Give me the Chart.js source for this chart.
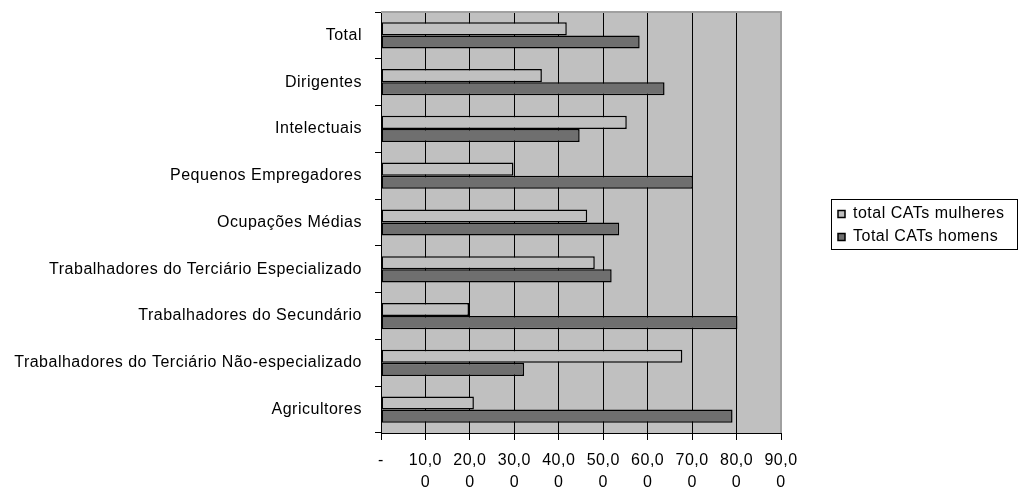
<!DOCTYPE html>
<html>
<head>
<meta charset="utf-8">
<script src="https://cdn.jsdelivr.net/npm/chart.js@4"></script>
<style>
  body { margin: 0; background: #fff; }
  #wrap { width: 1019px; height: 488px; }
</style>
</head>
<body>
<div id="wrap"><canvas id="myBarChart"></canvas></div>
<script>
/*declare chart data*/
const categories = [
  'Total',
  'Dirigentes',
  'Intelectuais',
  'Pequenos Empregadores',
  'Ocupações Médias',
  'Trabalhadores do Terciário Especializado',
  'Trabalhadores do Secundário',
  'Trabalhadores do Terciário Não-especializado',
  'Agricultores',
];
const mulheres = [41.8, 36.2, 55.3, 29.8, 46.4, 48.1, 19.8, 67.8, 20.9];
const homens = [58.2, 63.8, 44.7, 70.2, 53.6, 51.9, 80.2, 32.2, 79.1];
const xTickLabels = ['-', ['10,0', '0'], ['20,0', '0'], ['30,0', '0'], ['40,0', '0'],
  ['50,0', '0'], ['60,0', '0'], ['70,0', '0'], ['80,0', '0'], ['90,0', '0']];

Chart.defaults.font.family = '"Liberation Sans", Arial, sans-serif';
Chart.defaults.font.size = 16;
Chart.defaults.color = '#000';

/*plot background and frame*/
const plotFrame = {
  id: 'plotFrame',
  beforeLayout(chart) {
    chart.ctx.letterSpacing = '0.5px';
  },
  beforeDraw(chart) {
    const {ctx, chartArea: a} = chart;
    ctx.letterSpacing = '0.5px';
    ctx.save();
    ctx.fillStyle = '#c0c0c0';
    ctx.fillRect(a.left, a.top, a.right - a.left, a.bottom - a.top);
    ctx.restore();
  },
  afterDraw(chart) {
    const {ctx, chartArea: a} = chart;
    ctx.save();
    ctx.strokeStyle = '#a0a0a0';
    ctx.lineWidth = 2;
    ctx.beginPath();
    ctx.moveTo(a.left, a.top);
    ctx.lineTo(a.right, a.top);
    ctx.lineTo(a.right, a.bottom);
    ctx.stroke();
    // legend frame around the items
    const l = chart.legend;
    const boxes = l.legendHitBoxes || [];
    if (boxes.length) {
      const first = boxes[0];
      const last = boxes[boxes.length - 1];
      const top = first.top - 7;
      const bottom = last.top + last.height + 4;
      ctx.strokeStyle = '#000';
      ctx.lineWidth = 1;
      ctx.strokeRect(l.left + 0.5, top + 0.5, l.width, bottom - top);
    }
    ctx.restore();
  },
  afterLayout(chart) {
    const l = chart.legend;
    l.left = 831;
    l.top = 199;
    l.width = 186;
    l.height = 70;
    l.right = l.left + l.width;
    l.bottom = l.top + l.height;
  }
};

/*wire the options together*/
const data = {
  labels: categories,
  datasets: [{
    label: 'total CATs mulheres',
    backgroundColor: '#c0c0c0',
    borderColor: '#000',
    borderWidth: 1.5,
    borderSkipped: false,
    data: mulheres,
  }, {
    label: 'Total CATs homens',
    backgroundColor: '#6f6f6f',
    borderColor: '#000',
    borderWidth: 1.5,
    borderSkipped: false,
    data: homens,
  }]
};

const barConfig = {
  type: 'bar',
  data: data,
  plugins: [plotFrame],
  options: {
    indexAxis: 'y',
    responsive: true,
    maintainAspectRatio: false,
    animation: false,
    categoryPercentage: 0.56,
    barPercentage: 1,
    layout: { padding: { top: 12, right: 238, bottom: 0, left: 0 } },
    plugins: {
      tooltip: { enabled: false },
      legend: {
        position: 'chartArea',
        align: 'start',
        labels: {
          boxWidth: 7,
          boxHeight: 7,
          padding: 7,
          font: { size: 16, lineHeight: 1.2 },
        }
      }
    },
    scales: {
      x: {
        min: 0,
        max: 90,
        ticks: {
          stepSize: 10,
          padding: 9,
          autoSkip: false,
          font: { size: 16, lineHeight: 1.4 },
          maxRotation: 0,
          callback: (v) => xTickLabels[Math.round(v / 10)],
        },
        grid: {
          color: (c) => (c.tick && c.tick.value === 90) ? '#a0a0a0' : '#000',
          tickColor: '#000',
          tickLength: 7,
        },
        border: { color: '#000' },
        afterFit: (scale) => { scale.height = 55; },
      },
      y: {
        ticks: { padding: 13, font: { size: 16 } },
        grid: {
          offset: true,
          drawOnChartArea: false,
          color: '#000',
          tickLength: 6,
        },
        border: { color: '#000' },
        afterFit: (scale) => {
          scale.width = 381;
          scale.paddingTop = 0;
          scale.paddingBottom = 0;
        },
      }
    }
  },
};

/*create chart*/
var myBarChart = new Chart(
  document.getElementById('myBarChart'),
  barConfig
);
</script>
</body>
</html>
